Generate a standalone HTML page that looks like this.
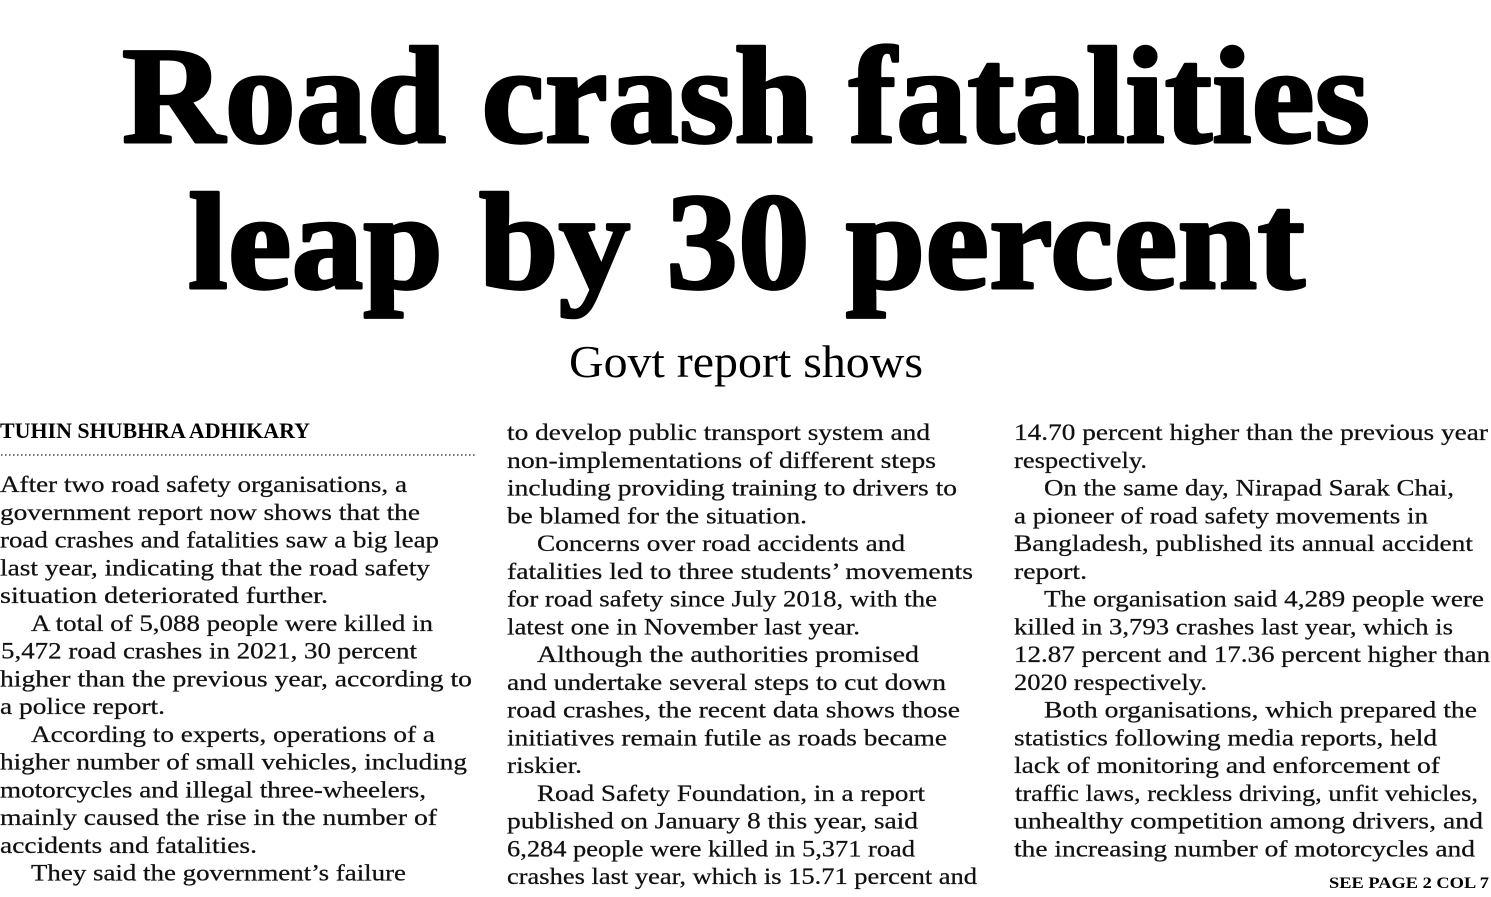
<!DOCTYPE html>
<html><head><meta charset="utf-8"><style>
html,body{margin:0;padding:0;background:#fff;}
svg{display:block;}
.h{font-family:"Liberation Serif",serif;font-weight:bold;font-size:138px;fill:#000;stroke:#000;stroke-width:3;stroke-linejoin:round;}
.s{font-family:"Liberation Serif",serif;font-size:45px;fill:#000;}
.b{font-family:"Liberation Serif",serif;font-size:23px;fill:#111;stroke:#111;stroke-width:0.25;}
.by{font-family:"Liberation Serif",serif;font-weight:bold;font-size:22px;fill:#000;}
.see{font-family:"Liberation Serif",serif;font-weight:bold;font-size:16px;fill:#000;}
</style></head><body>
<svg width="1491" height="897" viewBox="0 0 1491 897" xmlns="http://www.w3.org/2000/svg">
<rect width="1491" height="897" fill="#fff"/>
<text class="h" x="122" y="142" textLength="1248" lengthAdjust="spacingAndGlyphs">Road crash fatalities</text>
<text class="h" x="188" y="288" textLength="1117" lengthAdjust="spacingAndGlyphs">leap by 30 percent</text>
<text class="s" x="569" y="377" textLength="354" lengthAdjust="spacingAndGlyphs">Govt report shows</text>
<text class="by" x="0" y="438" textLength="310" lengthAdjust="spacingAndGlyphs">TUHIN SHUBHRA ADHIKARY</text>
<line x1="1" y1="455" x2="477" y2="455" stroke="#444" stroke-width="1.5" stroke-dasharray="1.5 2.5"/>

<g class="b">
<text x="0" y="492" textLength="407" lengthAdjust="spacingAndGlyphs">After two road safety organisations, a</text>
<text x="0" y="519.75" textLength="420" lengthAdjust="spacingAndGlyphs">government report now shows that the</text>
<text x="0" y="547.5" textLength="439" lengthAdjust="spacingAndGlyphs">road crashes and fatalities saw a big leap</text>
<text x="0" y="575.25" textLength="430" lengthAdjust="spacingAndGlyphs">last year, indicating that the road safety</text>
<text x="0" y="603" textLength="328" lengthAdjust="spacingAndGlyphs">situation deteriorated further.</text>
<text x="31" y="630.75" textLength="402" lengthAdjust="spacingAndGlyphs">A total of 5,088 people were killed in</text>
<text x="1" y="658.5" textLength="416" lengthAdjust="spacingAndGlyphs">5,472 road crashes in 2021, 30 percent</text>
<text x="0" y="686.25" textLength="472" lengthAdjust="spacingAndGlyphs">higher than the previous year, according to</text>
<text x="0" y="714" textLength="165" lengthAdjust="spacingAndGlyphs">a police report.</text>
<text x="31" y="741.75" textLength="404" lengthAdjust="spacingAndGlyphs">According to experts, operations of a</text>
<text x="0" y="769.5" textLength="467" lengthAdjust="spacingAndGlyphs">higher number of small vehicles, including</text>
<text x="0" y="797.25" textLength="426" lengthAdjust="spacingAndGlyphs">motorcycles and illegal three-wheelers,</text>
<text x="0" y="825" textLength="437" lengthAdjust="spacingAndGlyphs">mainly caused the rise in the number of</text>
<text x="0" y="852.75" textLength="257" lengthAdjust="spacingAndGlyphs">accidents and fatalities.</text>
<text x="31" y="880.5" textLength="375" lengthAdjust="spacingAndGlyphs">They said the government’s failure</text>

<text x="507" y="440" textLength="423" lengthAdjust="spacingAndGlyphs">to develop public transport system and</text>
<text x="507" y="467.75" textLength="429" lengthAdjust="spacingAndGlyphs">non-implementations of different steps</text>
<text x="507" y="495.5" textLength="450" lengthAdjust="spacingAndGlyphs">including providing training to drivers to</text>
<text x="507" y="523.25" textLength="300" lengthAdjust="spacingAndGlyphs">be blamed for the situation.</text>
<text x="537" y="551" textLength="368" lengthAdjust="spacingAndGlyphs">Concerns over road accidents and</text>
<text x="507" y="578.75" textLength="466" lengthAdjust="spacingAndGlyphs">fatalities led to three students’ movements</text>
<text x="507" y="606.5" textLength="430" lengthAdjust="spacingAndGlyphs">for road safety since July 2018, with the</text>
<text x="507" y="634.25" textLength="353" lengthAdjust="spacingAndGlyphs">latest one in November last year.</text>
<text x="537" y="662" textLength="382" lengthAdjust="spacingAndGlyphs">Although the authorities promised</text>
<text x="507" y="689.75" textLength="439" lengthAdjust="spacingAndGlyphs">and undertake several steps to cut down</text>
<text x="507" y="717.5" textLength="453" lengthAdjust="spacingAndGlyphs">road crashes, the recent data shows those</text>
<text x="507" y="745.25" textLength="440" lengthAdjust="spacingAndGlyphs">initiatives remain futile as roads became</text>
<text x="507" y="773" textLength="75" lengthAdjust="spacingAndGlyphs">riskier.</text>
<text x="537" y="800.75" textLength="388" lengthAdjust="spacingAndGlyphs">Road Safety Foundation, in a report</text>
<text x="507" y="828.5" textLength="411" lengthAdjust="spacingAndGlyphs">published on January 8 this year, said</text>
<text x="507" y="856.25" textLength="408" lengthAdjust="spacingAndGlyphs">6,284 people were killed in 5,371 road</text>
<text x="507" y="884" textLength="470" lengthAdjust="spacingAndGlyphs">crashes last year, which is 15.71 percent and</text>

<text x="1014" y="440" textLength="474" lengthAdjust="spacingAndGlyphs">14.70 percent higher than the previous year</text>
<text x="1014" y="467.75" textLength="133" lengthAdjust="spacingAndGlyphs">respectively.</text>
<text x="1044" y="495.5" textLength="410" lengthAdjust="spacingAndGlyphs">On the same day, Nirapad Sarak Chai,</text>
<text x="1014" y="523.25" textLength="414" lengthAdjust="spacingAndGlyphs">a pioneer of road safety movements in</text>
<text x="1014" y="551" textLength="459" lengthAdjust="spacingAndGlyphs">Bangladesh, published its annual accident</text>
<text x="1014" y="578.75" textLength="73" lengthAdjust="spacingAndGlyphs">report.</text>
<text x="1044" y="606.5" textLength="440" lengthAdjust="spacingAndGlyphs">The organisation said 4,289 people were</text>
<text x="1014" y="634.25" textLength="439" lengthAdjust="spacingAndGlyphs">killed in 3,793 crashes last year, which is</text>
<text x="1014" y="662" textLength="476" lengthAdjust="spacingAndGlyphs">12.87 percent and 17.36 percent higher than</text>
<text x="1014" y="689.75" textLength="193" lengthAdjust="spacingAndGlyphs">2020 respectively.</text>
<text x="1044" y="717.5" textLength="433" lengthAdjust="spacingAndGlyphs">Both organisations, which prepared the</text>
<text x="1014" y="745.25" textLength="423" lengthAdjust="spacingAndGlyphs">statistics following media reports, held</text>
<text x="1014" y="773" textLength="426" lengthAdjust="spacingAndGlyphs">lack of monitoring and enforcement of</text>
<text x="1015" y="800.75" textLength="463" lengthAdjust="spacingAndGlyphs">traffic laws, reckless driving, unfit vehicles,</text>
<text x="1014" y="828.5" textLength="469" lengthAdjust="spacingAndGlyphs">unhealthy competition among drivers, and</text>
<text x="1014" y="856.25" textLength="461" lengthAdjust="spacingAndGlyphs">the increasing number of motorcycles and</text>
</g>
<text class="see" x="1329" y="888" textLength="160" lengthAdjust="spacingAndGlyphs">SEE PAGE 2 COL 7</text>
</svg>
</body></html>
